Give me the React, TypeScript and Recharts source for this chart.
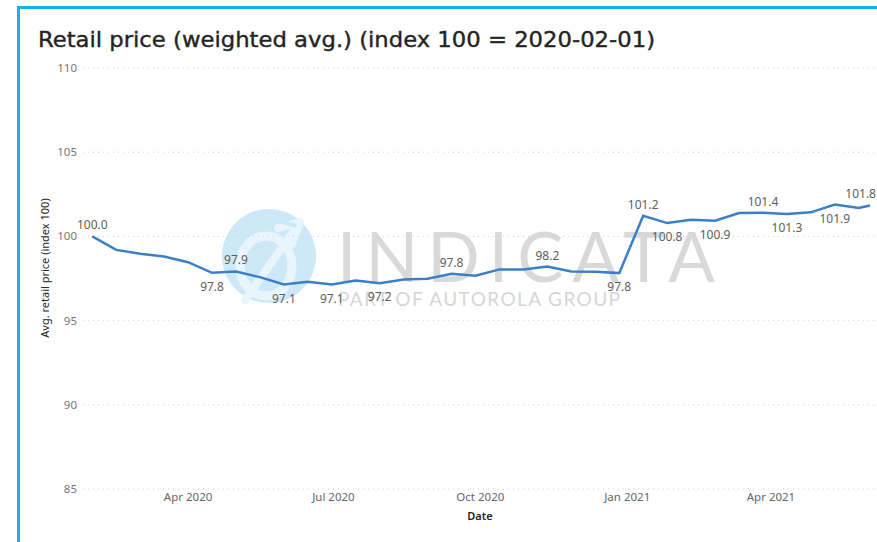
import React from 'react';
import { LineChart, Line, XAxis, YAxis, CartesianGrid, LabelList } from 'recharts';

const dates = [
  '2020-02-01', '2020-02-16', '2020-03-02', '2020-03-17', '2020-04-01', '2020-04-16',
  '2020-05-01', '2020-05-16', '2020-05-31', '2020-06-15', '2020-06-30', '2020-07-15',
  '2020-07-30', '2020-08-14', '2020-08-29', '2020-09-13', '2020-09-28', '2020-10-13',
  '2020-10-28', '2020-11-12', '2020-11-27', '2020-12-12', '2020-12-27', '2021-01-11',
  '2021-01-26', '2021-02-10', '2021-02-25', '2021-03-12', '2021-03-27', '2021-04-11',
  '2021-04-26', '2021-05-11', '2021-05-26', '2021-06-02',
];

const values = [
  100.0, 99.2, 98.97, 98.81, 98.47, 97.84,
  97.92, 97.58, 97.14, 97.3, 97.14, 97.38,
  97.22, 97.44, 97.48, 97.78, 97.66, 98.04,
  98.04, 98.21, 97.92, 97.9, 97.82, 101.23,
  100.79, 100.99, 100.93, 101.39, 101.41, 101.33,
  101.43, 101.89, 101.69, 101.84,
];

// which points carry a data label, and on which side of the line
const labelSide: Record<number, 'above' | 'below'> = {
  0: 'above', 5: 'below', 6: 'above', 8: 'below', 10: 'below', 12: 'below',
  15: 'above', 19: 'above', 22: 'below', 23: 'above', 24: 'below', 26: 'below',
  28: 'above', 29: 'below', 31: 'below', 33: 'above',
};

const xTickDates = ['2020-04-01', '2020-07-01', '2020-10-01', '2021-01-01', '2021-04-01'];
const xTickLabels = ['Apr 2020', 'Jul 2020', 'Oct 2020', 'Jan 2021', 'Apr 2021'];
const yTicks = [85, 90, 95, 100, 105, 110];

const TITLE = 'Retail price (weighted avg.) (index 100 = 2020-02-01)';
const Y_TITLE = 'Avg. retail price (index 100)';
const X_TITLE = 'Date';

const toDay = (s: string) => {
  const [y, m, d] = s.split('-').map(Number);
  return Date.UTC(y, m - 1, d) / 86400000;
};

const data = dates.map((d, i) => ({ t: toDay(d), v: values[i] }));
const xTicks = xTickDates.map(toDay);
const tickLabelMap: Record<number, string> = {};
xTicks.forEach((t, i) => (tickLabelMap[t] = xTickLabels[i]));

const FONT = '"Noto Sans", "Open Sans", sans-serif';

const renderLabel = (props: any) => {
  const { x, y, index, value } = props;
  const side = labelSide[index];
  if (!side || x == null) return null;
  let tx = x;
  let anchor: 'middle' | 'end' = 'middle';
  if (x > 860) {
    tx = 876;
    anchor = 'end';
  }
  return (
    <text
      key={`lbl-${index}`}
      x={tx}
      y={side === 'above' ? y - 7 : y + 18}
      textAnchor={anchor}
      fontSize={12}
      fontFamily={FONT}
      fill="#605e5c"
    >
      {Number(value).toFixed(1)}
    </text>
  );
};

const Background = () => (
  <svg width={877} height={542} style={{ position: 'absolute', left: 0, top: 0 }}>
    <rect x={0} y={0} width={877} height={542} fill="#ffffff" />
    {/* frame */}
    <rect x={17} y={6} width={860} height={3} fill="#1AAFE6" />
    <rect x={17} y={6} width={3} height={536} fill="#1AAFE6" />
    {/* title */}
    <text
      x={38}
      y={47}
      fontSize={21.5}
      fontFamily='"DejaVu Sans Condensed", "DejaVu Sans", sans-serif'
      fill="#252423"
      stroke="#252423"
      strokeWidth={0.35}
      textLength={617}
      lengthAdjust="spacingAndGlyphs"
    >
      {TITLE}
    </text>
    {/* watermark logo */}
    <g>
      <circle cx={269} cy={256} r={47} fill="#cde9f8" />
      <ellipse cx={266} cy={266} rx={26} ry={30} fill="none" stroke="#e8f5fc" strokeWidth={9} />
      <path d="M 245 300 L 300 222 L 292 244 M 300 222 L 278 228" fill="none" stroke="#e8f5fc" strokeWidth={8} strokeLinecap="round" />
      <path d="M 238 230 Q 262 214 296 226" fill="none" stroke="#cde9f8" strokeWidth={4} />
    </g>
    <text
      x={337}
      y={282}
      fontSize={69}
      fontFamily='Lato, "Noto Sans", sans-serif'
      fontWeight={400}
      fill="#d9d9d9"
      textLength={378}
      lengthAdjust="spacing"
    >
      INDICATA
    </text>
    <text
      x={338}
      y={306}
      fontSize={19}
      fontFamily='Lato, "Noto Sans", sans-serif'
      fontWeight={400}
      fill="#d6d6d6"
      textLength={282}
      lengthAdjust="spacing"
    >
      PART OF AUTOROLA GROUP
    </text>
    {/* axis titles */}
    <text
      x={0}
      y={0}
      transform="translate(49 268) rotate(-90)"
      textAnchor="middle"
      fontSize={11}
      fontFamily={FONT}
      fill="#252423"
    >
      {Y_TITLE}
    </text>
    <text x={480} y={520} textAnchor="middle" fontSize={11} fontFamily={FONT} fontWeight={600} fill="#252423">
      {X_TITLE}
    </text>
  </svg>
);

export default function App() {
  const tMin = data[0].t - 5.8;
  const tMax = data[data.length - 1].t + 4.4;
  return (
    <div style={{ position: 'absolute', left: 0, top: 0, width: 877, height: 542, background: '#fff' }}>
      <Background />
      <div style={{ position: 'absolute', left: 0, top: 0 }}>
        <LineChart width={877} height={542} data={data} margin={{ top: 68, right: 0, bottom: 0, left: 23 }}>
          <CartesianGrid vertical={false} stroke="#cfcfcf" strokeDasharray="1 4" />
          <XAxis
            dataKey="t"
            type="number"
            domain={[tMin, tMax]}
            ticks={xTicks}
            tickFormatter={(t: number) => tickLabelMap[t] ?? ''}
            axisLine={false}
            tickLine={false}
            tickSize={0}
            tickMargin={4}
            height={53}
            interval={0}
            tick={{ fontSize: 11.5, fontFamily: FONT, fill: '#666666' }}
            allowDataOverflow
          />
          <YAxis
            type="number"
            domain={[85, 110]}
            ticks={yTicks}
            axisLine={false}
            tickLine={false}
            tickSize={4}
            tickMargin={2}
            width={60}
            interval={0}
            tick={{ fontSize: 11.5, fontFamily: FONT, fill: '#777777' }}
          />
          <Line
            type="linear"
            dataKey="v"
            stroke="#3C7FC9"
            strokeWidth={2.5}
            dot={false}
            activeDot={false}
            isAnimationActive={false}
          >
            <LabelList dataKey="v" content={renderLabel} />
          </Line>
        </LineChart>
      </div>
    </div>
  );
}
